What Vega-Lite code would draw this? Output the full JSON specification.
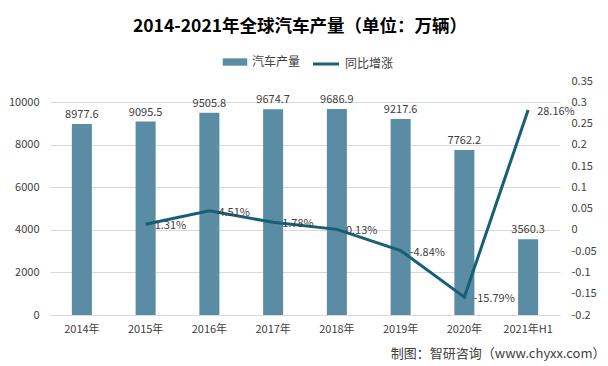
{
  "$schema": "https://vega.github.io/schema/vega-lite/v6.json",
  "autosize": {"type": "none"},
  "width": 510,
  "height": 234,
  "padding": {"left": 50, "top": 81, "right": 48, "bottom": 51},
  "background": "white",
  "config": {
    "font": "Noto Sans CJK SC",
    "view": {"stroke": null},
    "axis": {"labelFont": "Noto Sans CJK SC", "labelColor": "#404040", "labelFontSize": 11, "ticks": false, "domain": false, "grid": false}
  },
  "title": {
    "text": "2014-2021年全球汽车产量（单位：万辆）",
    "font": "Noto Sans CJK SC",
    "fontSize": 17.5,
    "fontWeight": "bold",
    "color": "#000000",
    "anchor": "middle",
    "frame": "group",
    "dx": -5,
    "offset": 14
  },
  "data": {
    "values": [
      {"year": "2014年", "output": 8977.6, "rate": null, "rate_label": null},
      {"year": "2015年", "output": 9095.5, "rate": 0.0131, "rate_label": "1.31%"},
      {"year": "2016年", "output": 9505.8, "rate": 0.0451, "rate_label": "4.51%"},
      {"year": "2017年", "output": 9674.7, "rate": 0.0178, "rate_label": "1.78%"},
      {"year": "2018年", "output": 9686.9, "rate": 0.0013, "rate_label": "0.13%"},
      {"year": "2019年", "output": 9217.6, "rate": -0.0484, "rate_label": "-4.84%"},
      {"year": "2020年", "output": 7762.2, "rate": -0.1579, "rate_label": "-15.79%"},
      {"year": "2021年H1", "output": 3560.3, "rate": 0.2816, "rate_label": "28.16%"}
    ]
  },
  "encoding": {
    "x": {
      "field": "year",
      "type": "ordinal",
      "sort": null,
      "scale": {"paddingInner": 0.686, "paddingOuter": 0.343},
      "axis": {
        "labelAngle": 0,
        "domain": true,
        "domainColor": "#d9d9d9",
        "labelPadding": 8,
        "title": "制图：智研咨询（www.chyxx.com）",
        "titleFont": "Noto Sans CJK SC",
        "titleFontSize": 13,
        "titleFontWeight": "normal",
        "titleColor": "#404040",
        "titleAnchor": "end",
        "titleAlign": "right",
        "titleBaseline": "alphabetic",
        "titleX": 555,
        "titleY": 42
      }
    }
  },
  "layer": [
    {
      "encoding": {
        "y": {
          "field": "output",
          "type": "quantitative",
          "scale": {"domain": [0, 11000], "nice": false},
          "axis": {
            "orient": "left",
            "values": [0, 2000, 4000, 6000, 8000, 10000],
            "format": "d",
            "grid": true,
            "gridColor": "#d9d9d9",
            "labelPadding": 11,
            "title": null
          }
        }
      },
      "layer": [
        {
          "mark": {"type": "bar"},
          "encoding": {
            "color": {
              "datum": "汽车产量",
              "scale": {"range": ["#5a8ca3"]},
              "legend": {
                "orient": "none",
                "legendX": 172,
                "legendY": -32,
                "title": null,
                "symbolType": "M-1,-0.3H1V0.3H-1Z",
                "symbolSize": 600,
                "labelFontSize": 12,
                "labelColor": "#404040",
                "labelFont": "Noto Sans CJK SC",
                "labelOffset": 4
              }
            }
          }
        },
        {
          "mark": {"type": "text", "baseline": "bottom", "dy": -4, "fontSize": 11, "color": "#404040"},
          "encoding": {
            "text": {"field": "output", "type": "quantitative", "format": ".1f"}
          }
        }
      ]
    },
    {
      "transform": [{"filter": "datum.rate != null"}],
      "encoding": {
        "y": {
          "field": "rate",
          "type": "quantitative",
          "scale": {"domain": [-0.2, 0.35], "nice": false, "zero": false},
          "axis": {
            "orient": "right",
            "values": [-0.2, -0.15, -0.1, -0.05, 0, 0.05, 0.1, 0.15, 0.2, 0.25, 0.3, 0.35],
            "labelExpr": "'' + datum.value",
            "labelOverlap": false,
            "labelPadding": 11,
            "title": null
          }
        }
      },
      "layer": [
        {
          "mark": {"type": "line", "strokeWidth": 3},
          "encoding": {
            "stroke": {
              "datum": "同比增涨",
              "scale": {"range": ["#175e78"]},
              "legend": {
                "orient": "none",
                "legendX": 261,
                "legendY": -32,
                "title": null,
                "symbolType": "stroke",
                "symbolSize": 680,
                "symbolStrokeWidth": 3,
                "labelFontSize": 12,
                "labelColor": "#404040",
                "labelFont": "Noto Sans CJK SC",
                "labelOffset": 4
              }
            }
          }
        },
        {
          "mark": {"type": "text", "align": "left", "baseline": "middle", "dx": 9, "dy": 2, "fontSize": 11, "color": "#404040"},
          "encoding": {
            "text": {"field": "rate_label"}
          }
        }
      ]
    }
  ],
  "resolve": {"scale": {"y": "independent", "color": "independent", "stroke": "independent"}, "legend": {"color": "independent", "stroke": "independent"}}
}
